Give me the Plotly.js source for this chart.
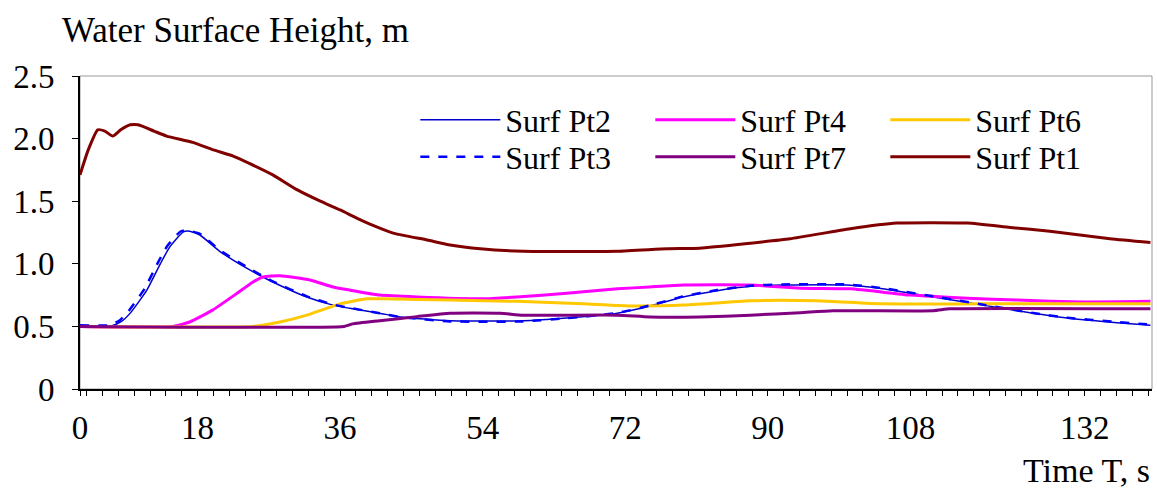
<!DOCTYPE html>
<html>
<head>
<meta charset="utf-8">
<script src="https://cdn.plot.ly/plotly-3.0.1.min.js"></script>
<style>html,body{margin:0;padding:0;background:#fff}#chart{width:1157px;height:488px}</style>
</head>
<body>
<div id="chart"></div>
<script>
// ---- data (time in s, water surface height in m) ----
var timePt1 = [3.16, 4.2, 5.4, 6.3, 7.3, 8.3, 9.5, 10.5, 12.5, 14.1, 17.4, 20.0, 22.5, 24.6, 27.5, 30.6, 33.5, 36.0, 38.1, 40.0, 42.7, 47.0, 49.9, 53.7, 59.1, 71.0, 77.3, 81.4, 87.8, 92.8, 100.4, 106.3, 115.2, 120.6, 125.6, 133.2, 138.3];
var heightPt1 = [1.71, 1.91, 2.07, 2.06, 2.02, 2.07, 2.11, 2.11, 2.06, 2.02, 1.97, 1.91, 1.86, 1.80, 1.71, 1.59, 1.50, 1.43, 1.365, 1.31, 1.245, 1.19, 1.15, 1.12, 1.10, 1.10, 1.12, 1.125, 1.165, 1.20, 1.28, 1.325, 1.325, 1.29, 1.26, 1.20, 1.17];

var timePt2 = [3.16, 7.2, 8.4, 9.5, 11.6, 13.3, 14.5, 16.2, 17.0, 18.3, 20.8, 24.2, 27.5, 31.8, 35.1, 37.2, 41.0, 43.6, 49.9, 59.1, 64.6, 71.0, 75.1, 79.3, 83.6, 87.8, 91.9, 100.0, 104.5, 110.9, 117.2, 123.5, 127.8, 134.1, 138.3];
var heightPt2 = [0.505, 0.505, 0.54, 0.606, 0.79, 1.0, 1.135, 1.255, 1.26, 1.23, 1.10, 0.965, 0.855, 0.735, 0.67, 0.645, 0.605, 0.575, 0.545, 0.545, 0.567, 0.605, 0.663, 0.735, 0.785, 0.82, 0.83, 0.83, 0.80, 0.735, 0.67, 0.605, 0.567, 0.53, 0.51];

var timePt3 = [3.16, 6.9, 8.1, 9.2, 11.3, 13.0, 14.2, 15.9, 16.8, 18.3, 20.8, 24.2, 27.5, 31.8, 35.1, 37.2, 41.0, 43.6, 49.9, 59.1, 64.6, 71.0, 75.1, 79.3, 83.6, 87.8, 91.9, 100.0, 104.5, 110.9, 117.2, 123.5, 127.8, 134.1, 138.3];
var heightPt3 = [0.51, 0.51, 0.545, 0.615, 0.80, 1.01, 1.145, 1.26, 1.265, 1.24, 1.11, 0.975, 0.86, 0.74, 0.675, 0.648, 0.605, 0.575, 0.54, 0.54, 0.565, 0.607, 0.667, 0.74, 0.79, 0.825, 0.835, 0.835, 0.805, 0.74, 0.673, 0.607, 0.57, 0.535, 0.515];

var timePt4 = [3.16, 14.9, 17.0, 19.9, 23.0, 25.0, 26.3, 28.4, 32.2, 35.1, 37.2, 41.0, 45.7, 54.0, 58.3, 64.6, 71.0, 75.1, 79.3, 87.8, 94.1, 100.4, 108.0, 115.2, 121.5, 129.8, 138.3];
var heightPt4 = [0.50, 0.50, 0.535, 0.63, 0.765, 0.855, 0.895, 0.905, 0.87, 0.815, 0.79, 0.75, 0.735, 0.72, 0.735, 0.765, 0.80, 0.815, 0.83, 0.83, 0.805, 0.80, 0.75, 0.725, 0.71, 0.695, 0.70];

var timePt6 = [3.16, 25.0, 28.4, 31.8, 36.0, 39.4, 41.4, 49.9, 58.3, 66.7, 73.0, 79.3, 87.8, 96.2, 104.5, 117.2, 138.3];
var heightPt6 = [0.50, 0.50, 0.535, 0.59, 0.68, 0.72, 0.72, 0.71, 0.70, 0.68, 0.663, 0.67, 0.705, 0.705, 0.68, 0.68, 0.68];

var timePt7 = [3.16, 36.5, 37.6, 41.0, 45.7, 49.9, 56.2, 59.1, 71.0, 75.1, 81.4, 87.8, 94.1, 98.2, 110.9, 113.0, 138.3];
var heightPt7 = [0.50, 0.50, 0.52, 0.545, 0.578, 0.605, 0.605, 0.59, 0.59, 0.575, 0.575, 0.59, 0.61, 0.625, 0.625, 0.64, 0.64];

var timeTickPositions = [3.16, 18, 36, 54, 72, 90, 108, 130];
var timeTickLabels = ['0', '18', '36', '54', '72', '90', '108', '132'];
var heightTicks = [0, 0.5, 1.0, 1.5, 2.0, 2.5];
var heightTickLabels = ['0', '0.5', '1.0', '1.5', '2.0', '2.5'];

var FONT = 'Liberation Serif';

function tr(name, x, y, color, width, dash, legend) {
  return {type: 'scatter', mode: 'lines', name: name, x: x, y: y,
          line: {color: color, width: width, dash: dash || 'solid', shape: 'spline', smoothing: 0.5},
          legend: legend, hoverinfo: 'skip'};
}

var data = [
  tr('Surf Pt2', timePt2, heightPt2, '#0000CC', 1.5, 'solid', 'legend'),
  tr('Surf Pt4', timePt4, heightPt4, '#FF00FF', 3, 'solid', 'legend'),
  tr('Surf Pt6', timePt6, heightPt6, '#FFC800', 3, 'solid', 'legend'),
  tr('Surf Pt3', timePt3, heightPt3, '#0000FF', 2.5, 'dash', 'legend2'),
  tr('Surf Pt7', timePt7, heightPt7, '#800080', 3, 'solid', 'legend2'),
  tr('Surf Pt1', timePt1, heightPt1, '#800000', 3, 'solid', 'legend2')
];

var legendBase = {
  orientation: 'h', xanchor: 'left', yanchor: 'middle', x: 0.3128,
  bgcolor: 'rgba(0,0,0,0)', borderwidth: 0,
  font: {family: FONT, size: 32, color: '#000'},
  itemwidth: 80, entrywidth: 140, entrywidthmode: 'pixels', traceorder: 'normal'
};

var layout = {
  width: 1157, height: 488,
  margin: {l: 80, r: 5, t: 76, b: 99},
  paper_bgcolor: '#fff', plot_bgcolor: '#fff',
  font: {family: FONT, size: 33, color: '#000'},
  title: {text: 'Water Surface Height, m', font: {family: FONT, size: 35, color: '#000'},
          xref: 'container', yref: 'container', x: 62/1157, xanchor: 'left', y: 1 - 30/488, yanchor: 'middle'},
  xaxis: {
    range: [3.16, 138.5], showgrid: false, zeroline: false,
    showline: true, linecolor: '#000', linewidth: 2,
    tickmode: 'array', tickvals: timeTickPositions, ticktext: timeTickLabels,
    ticks: 'outside', ticklen: 5, tickcolor: '#000', tickwidth: 1,
    ticklabelstandoff: 3,
    minor: {tickmode: 'linear', tick0: 0, dtick: 2, ticks: 'outside', ticklen: 5, tickcolor: '#000', tickwidth: 1, showgrid: false},
    tickfont: {family: FONT, size: 33, color: '#000'}
  },
  yaxis: {
    range: [0, 2.5], showgrid: false, zeroline: false,
    showline: true, linecolor: '#000', linewidth: 2,
    tickmode: 'array', tickvals: heightTicks, ticktext: heightTickLabels,
    ticks: 'outside', ticklen: 6, tickcolor: '#000', tickwidth: 1,
    ticklabelstandoff: 11,
    tickfont: {family: FONT, size: 33, color: '#000'}
  },
  legend: Object.assign({}, legendBase, {y: (389 - 120) / 313}),
  legend2: Object.assign({}, legendBase, {y: (389 - 157) / 313}),
  shapes: [{type: 'rect', xref: 'paper', yref: 'paper', x0: 0, x1: 1, y0: 0, y1: 1,
            line: {color: '#999', width: 1}, layer: 'below'}],
  annotations: [{text: 'Time T, s', xref: 'paper', yref: 'paper', x: 1, xanchor: 'right',
                 y: (389 - 470) / 313, yanchor: 'middle', showarrow: false,
                 font: {family: FONT, size: 34, color: '#000'}}]
};

Plotly.newPlot('chart', data, layout, {displayModeBar: false, staticPlot: true});
</script>
</body>
</html>
